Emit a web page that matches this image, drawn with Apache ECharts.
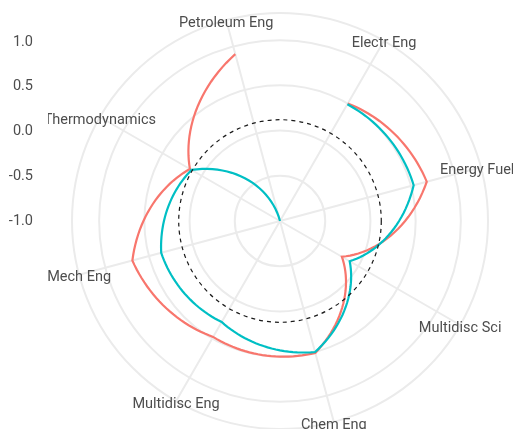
<html>
<head>
<meta charset="utf-8">
<script src="https://cdn.jsdelivr.net/npm/echarts@6/dist/echarts.min.js"></script>
</head>
<body>
<style>
    html, body, #main {
        width: 100%;
        height: 100%;
        margin: 0;
        background: #fff;
    }
</style>
<div id="main"></div>
<script>
    // categories in drawing order (clockwise, starting at Electr Eng)
    var categories = ['Electr Eng', 'Energy Fuels', 'Multidisc Sci', 'Chem Eng',
                      'Multidisc Eng', 'Mech Eng', 'Thermodynamics', 'Petroleum Eng'];
    var redValues  = [0.50, 0.68, -0.21, 0.51, 0.48, 0.69, 0.15, 0.91];
    var tealValues = [0.49, 0.53, -0.11, 0.50, 0.29, 0.36, 0.13, -1.00];
    var refLevel = 0.12;            // dashed reference circle
    var yTicks = [-1.0, -0.5, 0.0, 0.5, 1.0];
    var rMin = -1, rMax = 1.3;

    var chart = echarts.init(document.getElementById('main'));

    // path is interpolated linearly in (angle, radius) like coord_polar does
    function spiral(vals, color) {
        return {
            type: 'custom',
            coordinateSystem: 'polar',
            data: vals.map(function (v, i) { return [v, i]; }),
            renderItem: function (params, api) {
                if (params.dataIndex !== 0) return;
                var pts = [];
                for (var i = 0; i < vals.length - 1; i++) {
                    for (var k = 0; k < 24; k++) {
                        var t = k / 24;
                        pts.push(api.coord([vals[i] + (vals[i + 1] - vals[i]) * t, i + t]));
                    }
                }
                pts.push(api.coord([vals[vals.length - 1], vals.length - 1]));
                return {
                    type: 'polyline',
                    shape: { points: pts },
                    style: { stroke: color, lineWidth: 2.2, fill: null, lineJoin: 'miter' }
                };
            },
            silent: true
        };
    }

    var option = {
        animation: false,
        polar: { center: [280, 221], radius: [0, 208] },
        angleAxis: {
            type: 'value', min: 0, max: 8, interval: 1,
            startAngle: 60, clockwise: true,
            axisLine: { show: false }, axisTick: { show: false }, axisLabel: { show: false },
            splitLine: { show: true, lineStyle: { color: '#ebebeb', width: 2 } }
        },
        radiusAxis: {
            type: 'value', min: rMin, max: rMax, interval: 0.5,
            axisLine: { show: false }, axisTick: { show: false }, axisLabel: { show: false },
            splitLine: { show: true, lineStyle: { color: '#ebebeb', width: 2 } }
        },
        grid: { left: 40, top: 42, width: 1, height: 179 },
        xAxis: { type: 'value', show: false },
        yAxis: {
            type: 'value', min: yTicks[0], max: yTicks[yTicks.length - 1], interval: 0.5,
            axisLine: { show: false }, axisTick: { show: false }, splitLine: { show: false },
            axisLabel: {
                margin: 7, fontSize: 14.5, color: '#4d4d4d', fontFamily: 'Roboto',
                formatter: function (v) { return v.toFixed(1); }
            }
        },
        series: [
            spiral(redValues, '#F8766D'),
            spiral(tealValues, '#00BFC4'),
            {
                type: 'custom',
                coordinateSystem: 'polar',
                data: [[refLevel, 0]],
                renderItem: function (params, api) {
                    var c = api.coord([rMin, 0]);
                    var p = api.coord([api.value(0), 0]);
                    var r = Math.sqrt((p[0] - c[0]) * (p[0] - c[0]) + (p[1] - c[1]) * (p[1] - c[1]));
                    return {
                        type: 'circle',
                        shape: { cx: c[0], cy: c[1], r: r },
                        style: { fill: null, stroke: '#1a1a1a', lineWidth: 1.2, lineDash: [4, 4] }
                    };
                },
                silent: true
            },
            {
                // category labels centred on the outer ring
                type: 'custom',
                coordinateSystem: 'polar',
                data: categories.map(function (c, i) { return [rMax, i]; }),
                renderItem: function (params, api) {
                    var p = api.coord([api.value(0), api.value(1)]);
                    return {
                        type: 'text',
                        style: {
                            x: p[0], y: p[1] + 3,
                            text: categories[params.dataIndex],
                            align: 'center', verticalAlign: 'middle',
                            fill: '#4d4d4d', fontSize: 14.5, fontFamily: 'Roboto'
                        },
                        clipPath: { type: 'rect', shape: { x: 48, y: 0, width: 600, height: 500 } }
                    };
                },
                silent: true
            }
        ]
    };

    chart.setOption(option);
    window.onresize = chart.resize;
</script>
</body>
</html>
